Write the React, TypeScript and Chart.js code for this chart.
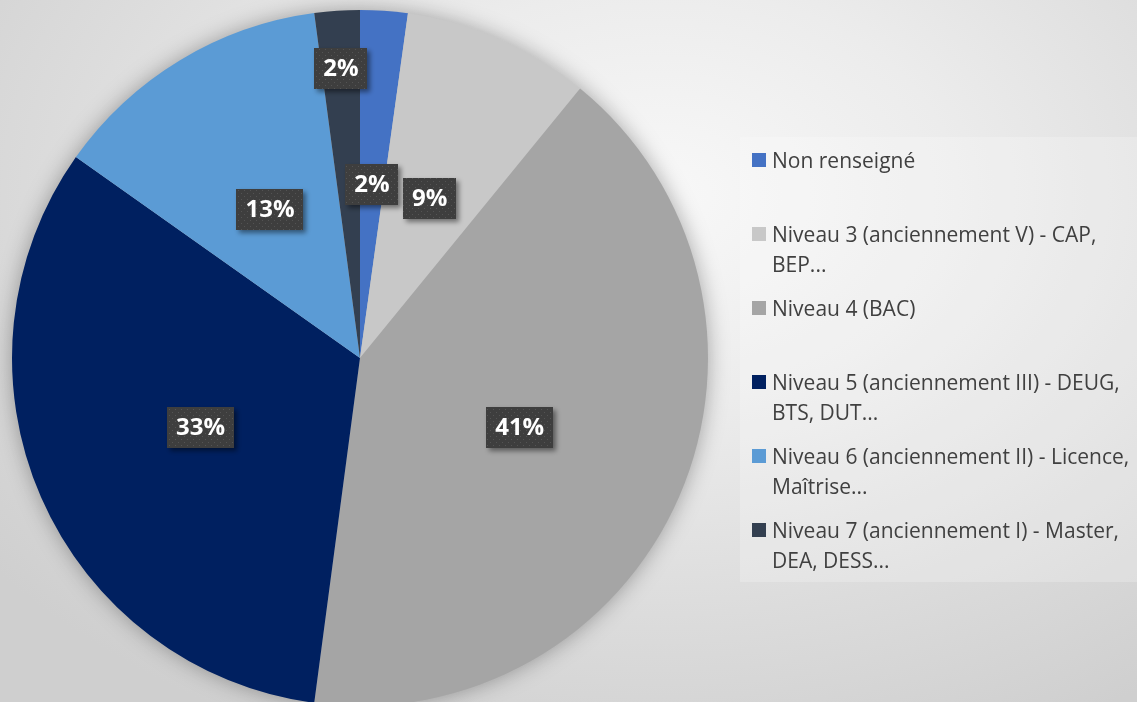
import React, { useEffect, useRef } from "react";
import { Chart, registerables } from "chart.js";

Chart.register(...registerables);

const categories = [
  "Non renseigné",
  "Niveau 3 (anciennement V) - CAP, BEP...",
  "Niveau 4 (BAC)",
  "Niveau 5 (anciennement III) - DEUG, BTS, DUT...",
  "Niveau 6 (anciennement II) - Licence, Maîtrise...",
  "Niveau 7 (anciennement I) - Master, DEA, DESS...",
];
const values = [2.2, 8.7, 41.2, 32.7, 13.1, 2.1];
const colors = ["#4472C4", "#C8C8C8", "#A5A5A5", "#002060", "#5B9BD5", "#333F50"];
const labelRadius = [0.5, 0.5, 0.5, 0.5, 0.5, 0.835];

function makePattern(ctx: CanvasRenderingContext2D) {
  const c = document.createElement("canvas");
  c.width = 6;
  c.height = 6;
  const p = c.getContext("2d")!;
  p.fillStyle = "#3e3e3e";
  p.fillRect(0, 0, 6, 6);
  p.fillStyle = "#545454";
  p.fillRect(1, 1, 1, 1);
  p.fillRect(4, 4, 1, 1);
  return ctx.createPattern(c, "repeat") || "#3e3e3e";
}

const shadowPlugin = {
  id: "pieShadow",
  beforeDatasetsDraw(chart: any) {
    const meta = chart.getDatasetMeta(0);
    if (!meta.data.length) return;
    const arc = meta.data[0];
    const { x, y, outerRadius } = arc.getProps(["x", "y", "outerRadius"], true);
    const ctx = chart.ctx;
    ctx.save();
    ctx.shadowColor = "rgba(0,0,0,0.35)";
    ctx.shadowBlur = 22;
    ctx.fillStyle = "#bbbbbb";
    ctx.beginPath();
    ctx.arc(x, y, outerRadius - 1, 0, Math.PI * 2);
    ctx.fill();
    ctx.restore();
  },
};

const labelPlugin = {
  id: "boxLabels",
  afterDatasetsDraw(chart: any) {
    const ctx = chart.ctx as CanvasRenderingContext2D;
    const meta = chart.getDatasetMeta(0);
    const data = chart.data.datasets[0].data as number[];
    const total = data.reduce((a, b) => a + b, 0);
    const pattern = makePattern(ctx);
    meta.data.forEach((arc: any, i: number) => {
      const { x, y, startAngle, endAngle, outerRadius } = arc.getProps(
        ["x", "y", "startAngle", "endAngle", "outerRadius"],
        true
      );
      const mid = (startAngle + endAngle) / 2;
      const r = outerRadius * labelRadius[i];
      const cx = x + Math.cos(mid) * r;
      const cy = y + Math.sin(mid) * r;
      const text = Math.round((data[i] / total) * 100) + "%";
      ctx.save();
      ctx.font = 'bold 24px "Open Sans"';
      const w = ctx.measureText(text).width + 18;
      const h = 41;
      ctx.shadowColor = "rgba(0,0,0,0.45)";
      ctx.shadowBlur = 5;
      ctx.shadowOffsetX = 3;
      ctx.shadowOffsetY = 3;
      ctx.fillStyle = pattern as any;
      ctx.fillRect(Math.round(cx - w / 2), Math.round(cy - h / 2), Math.round(w), h);
      ctx.shadowColor = "transparent";
      ctx.fillStyle = "#ffffff";
      ctx.textAlign = "center";
      ctx.textBaseline = "middle";
      ctx.fillText(text, cx, cy + 1);
      ctx.restore();
    });
  },
};

export default function App() {
  const canvasRef = useRef<HTMLCanvasElement | null>(null);

  useEffect(() => {
    document.body.style.margin = "0";
    const canvas = canvasRef.current!;
    const chart = new Chart(canvas, {
      type: "pie",
      data: {
        labels: categories,
        datasets: [
          {
            data: values,
            backgroundColor: colors,
            borderWidth: 0,
            hoverOffset: 0,
          },
        ],
      },
      options: {
        responsive: false,
        animation: false,
        devicePixelRatio: 1,
        layout: { padding: { left: 12, right: 429, top: 10, bottom: 4 } },
        plugins: {
          legend: { display: false },
          tooltip: { enabled: false },
        },
      },
      plugins: [shadowPlugin, labelPlugin],
    });
    return () => chart.destroy();
  }, []);

  return (
    <div
      style={{
        position: "relative",
        width: 1137,
        height: 702,
        overflow: "hidden",
        background:
          "radial-gradient(ellipse 75% 85% at 58% 28%, #f8f8f8 0%, #ececec 35%, #dcdcdc 70%, #cfcfcf 100%)",
        fontFamily: '"Open Sans", sans-serif',
      }}
    >
      <canvas
        ref={canvasRef}
        width={1137}
        height={710}
        style={{ position: "absolute", left: 0, top: 0, width: 1137, height: 710 }}
      />
      <div
        style={{
          position: "absolute",
          left: 740,
          top: 137,
          width: 397,
          height: 445,
          background: "rgba(255,255,255,0.22)",
        }}
      />
      {categories.map((c, i) => (
        <div
          key={c}
          style={{
            position: "absolute",
            left: 752,
            top: 145 + i * 74,
            width: 385,
            display: "flex",
            alignItems: "flex-start",
          }}
        >
          <div
            style={{
              width: 14,
              height: 14,
              marginTop: 8,
              marginRight: 6,
              flex: "0 0 14px",
              background: colors[i],
            }}
          />
          <div
            style={{
              fontSize: 21,
              lineHeight: "30px",
              color: "#404040",
              width: 365,
            }}
          >
            {c}
          </div>
        </div>
      ))}
    </div>
  );
}
